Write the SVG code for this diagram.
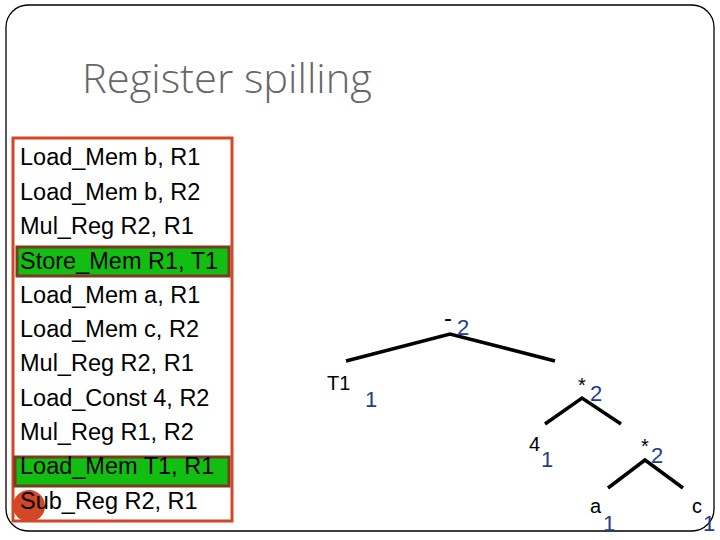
<svg xmlns="http://www.w3.org/2000/svg" width="720" height="540" viewBox="0 0 720 540">
<style>
.code{font-family:"Liberation Sans",Arial,sans-serif;font-size:23.5px;fill:#000}
.lbl{font-family:"Liberation Sans",Arial,sans-serif;font-size:20px;fill:#000}
.num{font-family:"Liberation Sans",Arial,sans-serif;font-size:22px;fill:#1F3E8C}
.edge{stroke:#000;stroke-width:3.5;fill:none;stroke-linecap:butt}
.hl{fill:#12BE12;stroke:#7A3B1E;stroke-width:3}
</style>
<rect width="720" height="540" fill="#fff"/>
<rect x="6" y="5" width="708" height="526" rx="22" ry="22" fill="none" stroke="#000" stroke-width="1.3"/>
<text x="82" y="93" font-family="'Open Sans','Noto Sans',sans-serif" font-weight="300" font-size="41" fill="#666" textLength="290" lengthAdjust="spacingAndGlyphs">Register spilling</text>
<g id="code-box">
<rect x="13" y="138" width="219" height="383" fill="#fff" stroke="#D24726" stroke-width="3"/>
<rect class="hl" x="17" y="247" width="212" height="29"/>
<rect class="hl" x="15" y="457" width="214" height="29"/>
<circle cx="29" cy="506" r="16" fill="#D24726"/>
<text class="code" x="20" y="165">Load_Mem b, R1</text>
<text class="code" x="20" y="199.5">Load_Mem b, R2</text>
<text class="code" x="20" y="234">Mul_Reg R2, R1</text>
<text class="code" x="20" y="268.5">Store_Mem R1, T1</text>
<text class="code" x="20" y="302.5">Load_Mem a, R1</text>
<text class="code" x="20" y="337">Load_Mem c, R2</text>
<text class="code" x="20" y="371">Mul_Reg R2, R1</text>
<text class="code" x="20" y="405.5">Load_Const 4, R2</text>
<text class="code" x="20" y="440">Mul_Reg R1, R2</text>
<text class="code" x="20" y="474">Load_Mem T1, R1</text>
<text class="code" x="20" y="509">Sub_Reg R2, R1</text>
</g>
<g id="connectors">
<polyline class="edge" points="346,361 450,334 555,361"/>
<polyline class="edge" points="545,424 582,398 621,424"/>
<polyline class="edge" points="608,488 645,460 683,488"/>
</g>
<g id="node-minus">
<text class="lbl" x="444" y="326" style="font-size:24px">-</text>
<text class="num" x="457" y="335">2</text>
</g>
<g id="node-T1">
<text class="lbl" x="327" y="390">T1</text>
<text class="num" x="365" y="407">1</text>
</g>
<g id="node-mul1">
<text class="lbl" x="578" y="392">*</text>
<text class="num" x="590" y="401">2</text>
</g>
<g id="node-4">
<text class="lbl" x="529" y="451">4</text>
<text class="num" x="541" y="467">1</text>
</g>
<g id="node-mul2">
<text class="lbl" x="641" y="453">*</text>
<text class="num" x="651" y="463">2</text>
</g>
<g id="node-a">
<text class="lbl" x="590" y="513">a</text>
<text class="num" x="603" y="531">1</text>
</g>
<g id="node-c">
<text class="lbl" x="692" y="513">c</text>
<text class="num" x="703" y="531">1</text>
</g>
</svg>
